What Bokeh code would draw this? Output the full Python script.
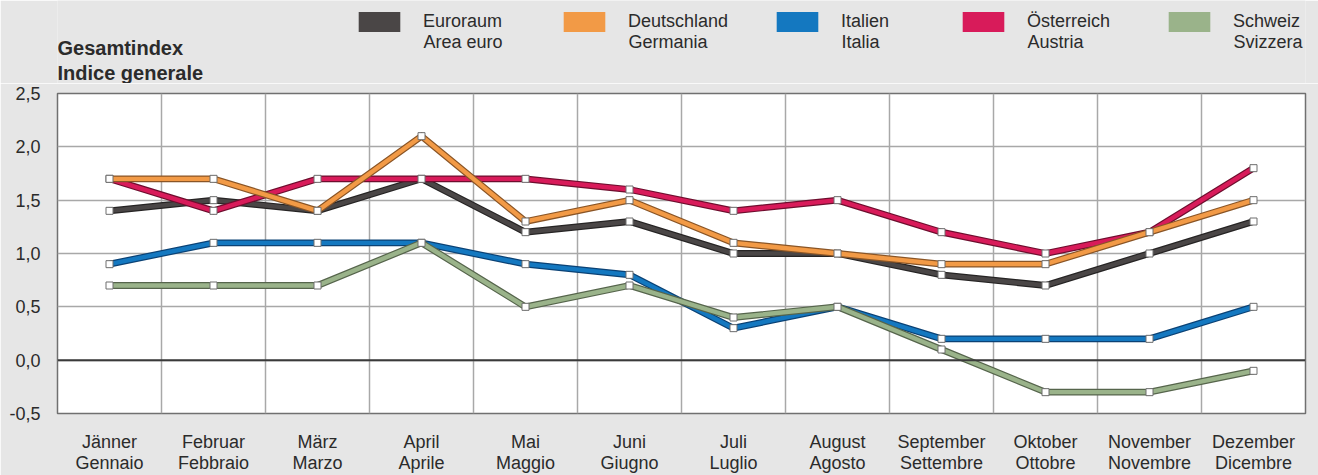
from bokeh.plotting import figure
from bokeh.layouts import column
from bokeh.embed import file_html
from bokeh.resources import INLINE
from bokeh.models import (Legend, LegendItem, Label, FixedTicker, Span,
                          CustomJSTickFormatter)

months = ["Jänner\nGennaio", "Februar\nFebbraio", "März\nMarzo", "April\nAprile",
          "Mai\nMaggio", "Juni\nGiugno", "Juli\nLuglio", "August\nAgosto",
          "September\nSettembre", "Oktober\nOttobre", "November\nNovembre",
          "Dezember\nDicembre"]
x_pos = [0.5, 1.5, 2.5, 3.5, 4.5, 5.5, 6.5, 7.5, 8.5, 9.5, 10.5, 11.5]

euroraum = [1.4, 1.5, 1.4, 1.7, 1.2, 1.3, 1.0, 1.0, 0.8, 0.7, 1.0, 1.3]
deutschland = [1.7, 1.7, 1.4, 2.1, 1.3, 1.5, 1.1, 1.0, 0.9, 0.9, 1.2, 1.5]
italien = [0.9, 1.1, 1.1, 1.1, 0.9, 0.8, 0.3, 0.5, 0.2, 0.2, 0.2, 0.5]
oesterreich = [1.7, 1.4, 1.7, 1.7, 1.7, 1.6, 1.4, 1.5, 1.2, 1.0, 1.2, 1.8]
schweiz = [0.7, 0.7, 0.7, 1.1, 0.5, 0.7, 0.4, 0.5, 0.1, -0.3, -0.3, -0.1]

y_ticks = [-0.5, 0.0, 0.5, 1.0, 1.5, 2.0, 2.5]
x_grid = [0, 1, 2, 3, 4, 5, 6, 7, 8, 9, 10, 11, 12]

# (German name, Italian name, values, colour, edge colour) in drawing order
series = [
    ("Italien", "Italia", italien, "#1478C0", "#0B4275"),
    ("Schweiz", "Svizzera", schweiz, "#9AB38A", "#56654C"),
    ("Euroraum", "Area euro", euroraum, "#4A4646", "#262424"),
    ("Österreich", "Austria", oesterreich, "#D81B5A", "#6E0E2E"),
    ("Deutschland", "Germania", deutschland, "#F29A46", "#8A5526"),
]
legend_order = ["Euroraum", "Deutschland", "Italien", "Österreich", "Schweiz"]
legend_x = [358, 563, 776, 962, 1168]

FONT = "Liberation Sans"
TXT = "#2b2b2b"
BG = "#E6E6E6"
LEFT, RIGHT = 57, 13
NAN = float("nan")
# legend swatch is drawn with a 10% inset on every side
GW, GH = 52, 25
INSET = 5
TEXT_DX = 65  # from visible swatch left edge to text start

# ---- header: title + legend ----
H = 83
head = figure(width=1318, height=H, x_range=(LEFT, 1318 - RIGHT), y_range=(0, H),
              output_backend="svg", toolbar_location=None, min_border=0,
              min_border_left=LEFT, min_border_right=RIGHT)
head.axis.visible = False
head.grid.visible = False
head.outline_line_color = None
head.background_fill_color = BG
head.border_fill_color = BG

info = {de: (it, col) for de, it, vals, col, dark in series}
for name, lx in zip(legend_order, legend_x):
    it, col = info[name]
    r = head.quad(left=[NAN], right=[NAN], top=[NAN], bottom=[NAN],
                  fill_color=col, line_color=None)
    lg = Legend(items=[LegendItem(label=name, renderers=[r])],
                location=(lx - LEFT - INSET, H - 34), glyph_width=GW, glyph_height=GH,
                label_standoff=int(TEXT_DX - GW + INSET), label_text_font=FONT,
                label_text_font_size="18px", label_text_color=TXT,
                border_line_color=None, background_fill_alpha=0, padding=0,
                margin=0, spacing=0)
    head.add_layout(lg)
    head.add_layout(Label(x=lx + TEXT_DX, y=H - 41, text=it, text_font=FONT,
                          text_font_size="18px", text_color=TXT,
                          text_baseline="middle"))

head.add_layout(Label(x=LEFT, y=H - 36, text="Gesamtindex\nIndice generale",
                      text_font=FONT, text_font_size="20px", text_font_style="bold",
                      text_color=TXT, text_baseline="top", text_line_height=1.15))

# ---- main chart ----
p = figure(width=1318, height=475 - H, x_range=(0, 12), y_range=(-0.5, 2.5),
           output_backend="svg", toolbar_location=None,
           min_border_left=LEFT, min_border_right=RIGHT, min_border_top=93 - H,
           min_border_bottom=60)
p.background_fill_color = "white"
p.border_fill_color = BG
p.outline_line_color = "#707070"
p.outline_line_width = 1.5

p.xgrid.ticker = FixedTicker(ticks=x_grid)
p.ygrid.ticker = FixedTicker(ticks=y_ticks)
for g in (p.xgrid, p.ygrid):
    g.grid_line_color = "#A8A8A8"
    g.grid_line_width = 1.5

p.yaxis.ticker = FixedTicker(ticks=y_ticks)
p.yaxis.formatter = CustomJSTickFormatter(code="return tick.toFixed(1).replace('.', ',');")
p.xaxis.ticker = FixedTicker(ticks=x_pos)
p.xaxis.formatter = CustomJSTickFormatter(args=dict(labels=months),
                                          code="return labels[Math.floor(tick)];")
for ax in (p.xaxis, p.yaxis):
    ax.axis_line_color = None
    ax.major_tick_line_color = None
    ax.minor_tick_line_color = None
    ax.major_label_text_font = FONT
    ax.major_label_text_font_size = "18px"
    ax.major_label_text_color = TXT
p.yaxis.major_label_standoff = 11
p.xaxis.major_label_standoff = 12
p.xaxis.major_label_text_line_height = 1.05

p.add_layout(Span(location=0, dimension="width", line_color="#3A3A3A", line_width=2))

for de, it, vals, col, dark in series:
    p.line(x_pos, vals, line_color=dark, line_width=6.8, line_join="miter")
    p.line(x_pos, vals, line_color=col, line_width=4.4, line_join="miter")
    p.scatter(x_pos, vals, marker="square", size=7, fill_color="white",
              line_color="#6E6E6E", line_width=1)

layout = column(head, p, spacing=0)
open("out.html", "w").write(file_html(layout, INLINE))
